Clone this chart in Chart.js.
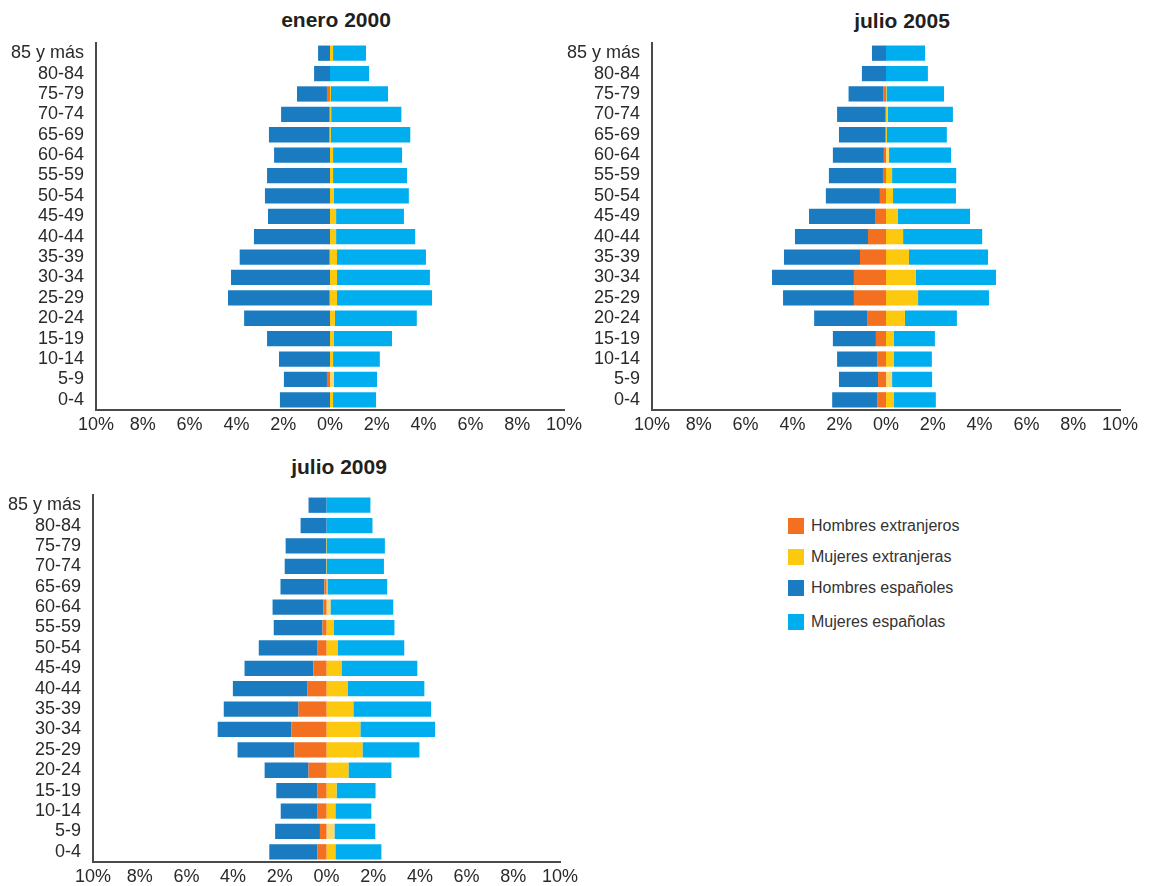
<!DOCTYPE html>
<html lang="es">
<head>
<meta charset="utf-8">
<title>Pirámides de población</title>
<script src="https://cdn.jsdelivr.net/npm/chart.js@4"></script>
<style>
    html, body { margin: 0; padding: 0; background: #fff; overflow: hidden; }
    body { width: 1153px; height: 886px; position: relative; font-family: "Liberation Sans", Arial, sans-serif; }
    .grafica { position: absolute; }
    .titulo { position: absolute; width: 240px; text-align: center; font-size: 21px; font-weight: bold; color: #231f20; line-height: 24px; }
    #leyenda { position: absolute; left: 788px; top: 518px; }
    .item { position: absolute; left: 0; white-space: nowrap; font-size: 16px; color: #333; line-height: 16px; }
    .item span.cuadro { display: inline-block; width: 16px; height: 16px; vertical-align: top; margin-right: 7px; }
</style>
</head>
<body>
<div class="titulo" style="left:216px;top:8px">enero 2000</div>
<div class="titulo" style="left:782px;top:9px">julio 2005</div>
<div class="titulo" style="left:219px;top:455px">julio 2009</div>
<div class="grafica" style="left:0;top:0"><canvas id="g2000" width="590" height="440"></canvas></div>
<div class="grafica" style="left:560px;top:0"><canvas id="g2005" width="590" height="440"></canvas></div>
<div class="grafica" style="left:0;top:448px"><canvas id="g2009" width="590" height="438"></canvas></div>
<div id="leyenda"></div>

<script>
// Grupos de edad (de arriba a abajo)
const edades = ['85 y más', '80-84', '75-79', '70-74', '65-69', '60-64', '55-59', '50-54', '45-49',
    '40-44', '35-39', '30-34', '25-29', '20-24', '15-19', '10-14', '5-9', '0-4'];

// Nombres de las series
const series = ['Hombres extranjeros', 'Mujeres extranjeras', 'Hombres españoles', 'Mujeres españolas'];

// Marcas del eje x (%)
const marcasX = [-10, -8, -6, -4, -2, 0, 2, 4, 6, 8, 10];

// enero 2000 (% del total)
const hombresExt2000 = [0, 0, 0.13, 0.04, 0.03, 0, 0, 0, 0, 0, 0.04, 0, 0.04, 0, 0, 0, 0.13, 0];
const mujeresExt2000 = [0.13, 0, 0.04, 0.05, 0.04, 0.13, 0.13, 0.17, 0.26, 0.26, 0.3, 0.3, 0.3, 0.21, 0.17, 0.13, 0.17, 0.13];
const hombresEsp2000 = [0.51, 0.68, 1.28, 2.05, 2.58, 2.39, 2.69, 2.78, 2.65, 3.25, 3.82, 4.23, 4.32, 3.67, 2.69, 2.18, 1.84, 2.14];
const mujeresEsp2000 = [1.41, 1.67, 2.44, 3.0, 3.39, 2.95, 3.16, 3.2, 2.9, 3.38, 3.8, 3.97, 4.06, 3.5, 2.48, 2.0, 1.84, 1.84];

// julio 2005
const hombresExt2005 = [0, 0, 0.1, 0.04, 0.04, 0.09, 0.13, 0.26, 0.47, 0.77, 1.11, 1.37, 1.37, 0.81, 0.43, 0.38, 0.34, 0.38];
const mujeresExt2005 = [0, 0, 0.02, 0.08, 0.04, 0.13, 0.26, 0.3, 0.51, 0.73, 0.98, 1.28, 1.37, 0.81, 0.34, 0.34, 0.26, 0.34];
const hombresEsp2005 = [0.6, 1.03, 1.5, 2.05, 1.97, 2.18, 2.31, 2.31, 2.82, 3.12, 3.25, 3.5, 3.03, 2.26, 1.84, 1.71, 1.67, 1.92];
const mujeresEsp2005 = [1.67, 1.79, 2.46, 2.78, 2.56, 2.65, 2.74, 2.69, 3.08, 3.38, 3.38, 3.42, 3.03, 2.22, 1.75, 1.62, 1.71, 1.79];

// julio 2009
const hombresExt2009 = [0, 0, 0, 0, 0.09, 0.13, 0.17, 0.38, 0.56, 0.81, 1.2, 1.5, 1.37, 0.77, 0.4, 0.38, 0.28, 0.4];
const mujeresExt2009 = [0, 0, 0.02, 0.02, 0.04, 0.17, 0.3, 0.47, 0.64, 0.9, 1.15, 1.45, 1.54, 0.94, 0.43, 0.38, 0.34, 0.38];
const hombresEsp2009 = [0.77, 1.11, 1.75, 1.79, 1.88, 2.18, 2.09, 2.52, 2.95, 3.2, 3.2, 3.16, 2.44, 1.88, 1.75, 1.58, 1.92, 2.05];
const mujeresEsp2009 = [1.88, 1.97, 2.48, 2.44, 2.56, 2.69, 2.61, 2.86, 3.25, 3.29, 3.33, 3.2, 2.44, 1.84, 1.67, 1.54, 1.75, 1.97];

const colores = ['#f37021', '#fdc90f', '#1a7bc0', '#00aeef'];
const amarilloClaro = '#fdd96b';
const fuente = '"Liberation Sans", Arial, sans-serif';

// Crea una pirámide: hombres a la izquierda (negativos), mujeres a la derecha
function crearPiramide(id, datos, conf) {
    const ctx = document.getElementById(id).getContext('2d');
    const amarillo = c => conf.filasClaras.includes(c.dataIndex) ? amarilloClaro : colores[1];
    return new Chart(ctx, {
        type: 'bar',
        data: {
            labels: edades,
            datasets: [
                { label: series[0], data: datos[0].map(v => -v), backgroundColor: colores[0] },
                { label: series[1], data: datos[1], backgroundColor: amarillo },
                { label: series[2], data: datos[2].map(v => -v), backgroundColor: colores[2] },
                { label: series[3], data: datos[3], backgroundColor: colores[3] }
            ]
        },
        options: {
            indexAxis: 'y',
            responsive: false,
            animation: false,
            barPercentage: 0.75,
            categoryPercentage: 1,
            layout: { padding: { left: 0, right: conf.derecha, top: conf.arriba, bottom: 0 } },
            plugins: {
                legend: { display: false },
                tooltip: { enabled: false }
            },
            scales: {
                x: {
                    stacked: true,
                    min: -10,
                    max: 10,
                    afterBuildTicks: s => { s.ticks = marcasX.map(v => ({ value: v })); },
                    afterFit: s => { s.height = conf.altoX; },
                    grid: { display: false, drawTicks: false },
                    border: { display: true, color: '#4a4a4a', width: 2 },
                    ticks: {
                        padding: 4,
                        color: '#2a2a2a',
                        font: { family: fuente, size: 18 },
                        callback: v => Math.abs(v) + '%'
                    }
                },
                y: {
                    stacked: true,
                    afterFit: s => { s.width = conf.anchoY; },
                    grid: { display: false, drawTicks: false },
                    border: { display: true, color: '#4a4a4a', width: 2 },
                    ticks: {
                        autoSkip: false,
                        padding: 12,
                        color: '#2a2a2a',
                        font: { family: fuente, size: 18 }
                    }
                }
            }
        }
    });
}

crearPiramide('g2000',
    [hombresExt2000, mujeresExt2000, hombresEsp2000, mujeresEsp2000],
    { anchoY: 96, altoX: 30, derecha: 26, arriba: 43, filasClaras: [16] });

crearPiramide('g2005',
    [hombresExt2005, mujeresExt2005, hombresEsp2005, mujeresEsp2005],
    { anchoY: 92, altoX: 30, derecha: 30, arriba: 43, filasClaras: [5, 16] });

crearPiramide('g2009',
    [hombresExt2009, mujeresExt2009, hombresEsp2009, mujeresEsp2009],
    { anchoY: 93, altoX: 24, derecha: 30, arriba: 47, filasClaras: [5, 16] });

// Leyenda común
const leyenda = document.getElementById('leyenda');
const posLeyenda = [0, 31, 62, 96];
series.forEach((nombre, i) => {
    const item = document.createElement('div');
    item.className = 'item';
    item.style.top = posLeyenda[i] + 'px';
    item.innerHTML = '<span class="cuadro" style="background:' + colores[i] + '"></span>' + nombre;
    leyenda.appendChild(item);
});
</script>
</body>
</html>
